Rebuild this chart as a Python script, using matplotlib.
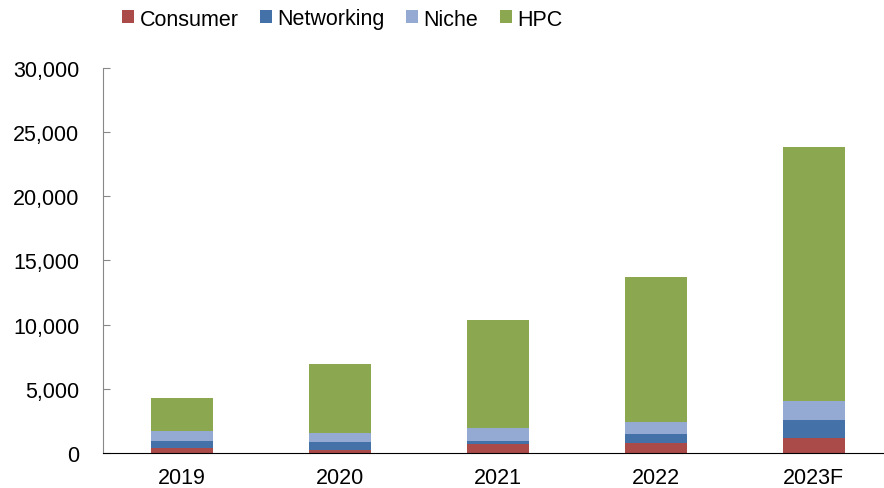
import matplotlib.pyplot as plt
import numpy as np

plt.rcParams['font.family'] = ['Liberation Sans', 'DejaVu Sans']

years = ['2019', '2020', '2021', '2022', '2023F']
consumer = [390, 230, 680, 750, 1170]
networking = [570, 600, 260, 730, 1430]
niche = [730, 730, 980, 940, 1450]
hpc = [2600, 5380, 8450, 11300, 19800]

series = [('Consumer', consumer, '#AA4B49'),
          ('Networking', networking, '#4472A8'),
          ('Niche', niche, '#95AAD3'),
          ('HPC', hpc, '#8BA74F')]

fig = plt.figure(figsize=(8.84, 4.89), dpi=100)
ax = fig.add_axes([0.1165, 0.0716, 0.8934, 0.7874])

x = np.arange(len(years))
bottom = np.zeros(len(years))
for name, vals, col in series:
    ax.bar(x, vals, 0.39, bottom=bottom, color=col, label=name)
    bottom += np.array(vals)

ax.set_xlim(-0.5, 4.5)
ax.set_ylim(0, 30000)
ax.set_yticks(range(0, 30001, 5000))
ax.set_yticklabels([f'{v:,}' for v in range(0, 30001, 5000)])
ax.set_xticks(x)
ax.set_xticklabels(years)
ax.tick_params(axis='x', length=0, labelsize=15.5, pad=10)
ax.tick_params(axis='y', direction='in', length=5, labelsize=15.5, pad=17,
               color='#888888')
for s in ['top', 'right']:
    ax.spines[s].set_visible(False)
ax.spines['left'].set_color('#888888')
ax.spines['bottom'].set_color('black')

fig.legend(loc='center left', bbox_to_anchor=(122 / 884, 1 - 20 / 489), ncol=4,
           frameon=False, fontsize=15.5, handlelength=0.56, handleheight=0.56,
           handletextpad=0.25, columnspacing=1.0, borderaxespad=0, borderpad=0)

fig.savefig('out.png', dpi=100)
